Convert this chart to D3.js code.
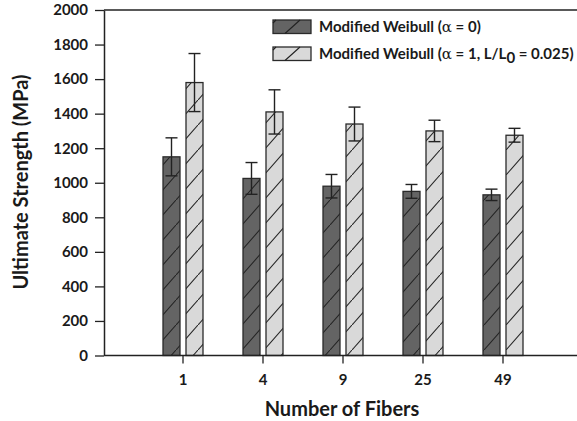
<!DOCTYPE html>
<html>
<head>
<meta charset="utf-8">
<script src="https://cdn.jsdelivr.net/npm/d3@7"></script>
<style>
  body { margin: 0; background: #fff; }
  svg { display: block; font-family: Lato, "Open Sans", sans-serif; }
</style>
</head>
<body>
<svg id="chart" width="577" height="421"></svg>
<script>
// --- DATA ---
const fibers = ["1", "4", "9", "25", "49"];
const alpha0 = [1150, 1025, 980, 950, 930];
const alpha0Err = [110, 92, 68, 40, 33];
const alpha1 = [1580, 1410, 1340, 1300, 1275];
const alpha1Err = [168, 128, 98, 62, 40];
const yTicks = [0, 200, 400, 600, 800, 1000, 1200, 1400, 1600, 1800, 2000];

const series = [
  { key: "a0", fill: "#646464", values: alpha0, errs: alpha0Err, off: -20 },
  { key: "a1", fill: "#d9d9d9", values: alpha1, errs: alpha1Err, off: 3 }
];

// --- LAYOUT ---
const PLOT_L = 104, PLOT_R = 577, PLOT_T = 10, PLOT_B = 355.5;
const BAR_W = 17;
const INK = "#222";
const TXT = "#1a1a1a";

const svg = d3.select("#chart");

const x = d3.scaleBand().domain(fibers).range([143, 543]);
const y = d3.scaleLinear().domain([0, 2000]).range([PLOT_B, PLOT_T]);

// hatch patterns
const defs = svg.append("defs");
series.forEach(s => {
  const p = defs.append("pattern")
    .attr("id", "hatch-" + s.key)
    .attr("patternUnits", "userSpaceOnUse")
    .attr("width", 22).attr("height", 25);
  p.append("rect").attr("width", 22).attr("height", 25).attr("fill", s.fill);
  p.append("path").attr("d", "M-1,26.1L23,-1.1")
    .attr("stroke", INK).attr("stroke-width", 1.1);
});

// frame: top border line
svg.append("line")
  .attr("x1", PLOT_L).attr("x2", PLOT_R).attr("y1", PLOT_T).attr("y2", PLOT_T)
  .attr("stroke", INK).attr("stroke-width", 1.5);

// bars
series.forEach(s => {
  const g = svg.append("g");
  g.selectAll("rect").data(fibers).enter().append("rect")
    .attr("x", d => x(d) + x.bandwidth() / 2 + s.off)
    .attr("width", BAR_W)
    .attr("y", (d, i) => y(s.values[i]))
    .attr("height", (d, i) => y(0) - y(s.values[i]))
    .attr("fill", `url(#hatch-${s.key})`)
    .attr("stroke", "#2a2a2a").attr("stroke-width", 1.3);

  // error bars
  const eb = g.selectAll("g.err").data(fibers).enter().append("g").attr("class", "err");
  const cx = d => x(d) + x.bandwidth() / 2 + s.off + BAR_W / 2;
  eb.append("line")
    .attr("x1", cx).attr("x2", cx)
    .attr("y1", (d, i) => y(s.values[i] - s.errs[i]))
    .attr("y2", (d, i) => y(s.values[i] + s.errs[i]))
    .attr("stroke", INK).attr("stroke-width", 1.4);
  [-1, 1].forEach(sign => {
    eb.append("line")
      .attr("x1", d => cx(d) - 6).attr("x2", d => cx(d) + 6)
      .attr("y1", (d, i) => y(s.values[i] + sign * s.errs[i]))
      .attr("y2", (d, i) => y(s.values[i] + sign * s.errs[i]))
      .attr("stroke", INK).attr("stroke-width", 1.4);
  });
});

// y axis
const yAxis = svg.append("g")
  .attr("transform", `translate(${PLOT_L},0)`)
  .call(d3.axisLeft(y).tickValues(yTicks).tickFormat(d3.format("d"))
    .tickSize(9).tickPadding(7).tickSizeOuter(0));
yAxis.select(".domain").attr("stroke", INK).attr("stroke-width", 1.5);
yAxis.selectAll(".tick line").attr("stroke", INK).attr("stroke-width", 1.3);
yAxis.selectAll(".tick text")
  .attr("fill", TXT).style("font-size", "15px").style("font-weight", "bold")
  .style("font-family", "Lato, sans-serif");

// x axis
const xAxis = svg.append("g")
  .attr("transform", `translate(0,${PLOT_B})`)
  .call(d3.axisBottom(x).tickSize(8).tickPadding(11).tickSizeOuter(0));
xAxis.select(".domain").attr("d", `M${PLOT_L},0H${PLOT_R}`)
  .attr("stroke", INK).attr("stroke-width", 1.5);
xAxis.selectAll(".tick line").attr("stroke", INK).attr("stroke-width", 1.3);
xAxis.selectAll(".tick text")
  .attr("fill", TXT).style("font-size", "15px").style("font-weight", "bold")
  .style("font-family", "Lato, sans-serif");

// axis titles
svg.append("text")
  .attr("transform", "translate(28,182) rotate(-90)")
  .attr("text-anchor", "middle")
  .style("font-size", "20px").style("font-weight", "bold").attr("fill", TXT)
  .text("Ultimate Strength (MPa)");

svg.append("text")
  .attr("x", 342).attr("y", 416)
  .attr("text-anchor", "middle")
  .style("font-size", "20px").style("font-weight", "bold").attr("fill", TXT)
  .text("Number of Fibers");

// legend
const legend = svg.append("g");
const legendRows = [
  { fill: "#646464", y: 20 },
  { fill: "#d9d9d9", y: 47 }
];
legendRows.forEach(r => {
  legend.append("rect")
    .attr("x", 273).attr("y", r.y).attr("width", 38).attr("height", 13.5)
    .attr("fill", r.fill).attr("stroke", "#2a2a2a").attr("stroke-width", 1.3);
  legend.append("path")
    .attr("d", `M${273 + 12},${r.y + 13.5}L${273 + 27},${r.y} M273,${r.y + 3}L${276},${r.y}`)
    .attr("stroke", INK).attr("stroke-width", 1.1);
});

const t1 = legend.append("text").attr("x", 319).attr("y", 32)
  .style("font-size", "15px").style("font-weight", "bold").attr("fill", TXT);
t1.append("tspan").text("Modified Weibull (");
t1.append("tspan").style("font-family", "'DejaVu Serif', serif").style("font-weight", "normal").text("α");
t1.append("tspan").text(" = 0)");

const t2 = legend.append("text").attr("x", 319).attr("y", 59)
  .style("font-size", "15px").style("font-weight", "bold").attr("fill", TXT);
t2.append("tspan").text("Modified Weibull (");
t2.append("tspan").style("font-family", "'DejaVu Serif', serif").style("font-weight", "normal").text("α");
t2.append("tspan").text(" = 1, L/L");
t2.append("tspan").attr("dy", 4).style("font-size", "15px").text("0");
t2.append("tspan").attr("dy", -4).text(" = 0.025)");
</script>
</body>
</html>
